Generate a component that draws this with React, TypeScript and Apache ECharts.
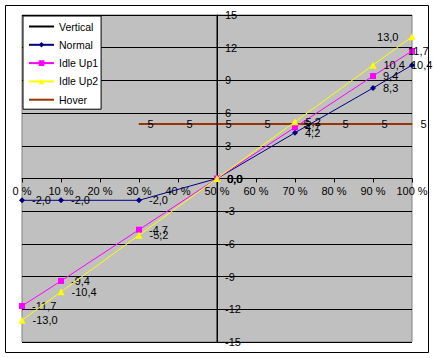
import React, { useEffect, useRef } from "react";
import * as echarts from "echarts";

const xPoints = [0, 10, 30, 50, 70, 90, 100];
const normalValues = [-2.0, -2.0, -2.0, 0.0, 4.2, 8.3, 10.4];
const idleUp1Values = [-11.7, -9.4, -4.7, 0.0, 4.7, 9.4, 11.7];
const idleUp2Values = [-13.0, -10.4, -5.2, 0.0, 5.2, 10.4, 13.0];
const hoverX = [30, 40, 50, 60, 70, 80, 90, 100];
const hoverValues = [5, 5, 5, 5, 5, 5, 5, 5];
const verticalX = [50, 50];
const verticalValues = [-15, 15];

const FONT = "'Liberation Sans', Arial, sans-serif";
const fmt = (v: number) => v.toFixed(1).replace(".", ",");

export default function App() {
  const ref = useRef<HTMLDivElement>(null);
  useEffect(() => {
    document.body.style.margin = "0";
    const chart = echarts.init(ref.current!, null, { renderer: "svg" });

    const baseLabel = {
      show: true,
      position: "right" as const,
      distance: 7,
      color: "#000",
      fontSize: 11,
      fontFamily: FONT,
    };

    const mk = (ys: number[], lastLabel: any) =>
      xPoints.map((x, i) => {
        const item: any = { value: [x, ys[i]] };
        if (x === 100 && lastLabel) item.label = lastLabel;
        return item;
      });

    chart.setOption({
      animation: false,
      textStyle: { fontFamily: FONT },
      graphic: [
        {
          type: "rect",
          shape: { x: 5.5, y: 5.5, width: 423, height: 347 },
          style: { fill: "none", stroke: "#000", lineWidth: 1 },
          z: -1,
        },
      ],
      grid: {
        left: 22,
        top: 15,
        width: 390,
        height: 327,
        show: true,
        backgroundColor: "#C0C0C0",
        borderColor: "#808080",
        borderWidth: 1,
      },
      legend: {
        left: 23,
        top: 16,
        orient: "vertical",
        backgroundColor: "#fff",
        borderColor: "#000",
        borderWidth: 1,
        padding: [5, 3, 4, 5],
        itemWidth: 25,
        itemHeight: 7,
        itemGap: 7.3,
        textStyle: { color: "#000", fontSize: 10.5, fontFamily: FONT },
        data: [
          { name: "Vertical", itemStyle: { opacity: 0 } },
          "Normal",
          "Idle Up1",
          "Idle Up2",
          { name: "Hover", itemStyle: { opacity: 0 } },
        ],
      },
      xAxis: {
        type: "value",
        min: 0,
        max: 100,
        interval: 10,
        position: "bottom",
        offset: -163.5,
        axisLine: { onZero: false, lineStyle: { color: "#000", width: 1 } },
        axisTick: { show: true, length: 4, lineStyle: { color: "#000" } },
        axisLabel: {
          color: "#000",
          fontSize: 11,
          fontFamily: FONT,
          margin: 7,
          formatter: (v: number) => `${v} %`,
        },
        splitLine: { show: false },
      },
      yAxis: {
        type: "value",
        min: -15,
        max: 15,
        interval: 3,
        position: "left",
        offset: -195,
        axisLine: { show: true, onZero: false, lineStyle: { color: "#000", width: 1 } },
        axisTick: { show: false },
        axisLabel: {
          inside: true,
          color: "#000",
          fontSize: 11,
          fontFamily: FONT,
          margin: 8,
          showMinLabel: true,
          showMaxLabel: true,
          formatter: (v: number) => (v === 0 ? "" : String(v)),
        },
        splitLine: { show: true, lineStyle: { color: "#000", width: 1 } },
      },
      series: [
        {
          name: "Vertical",
          type: "line",
          data: verticalX.map((x, i) => [x, verticalValues[i]]),
          symbol: "none",
          lineStyle: { color: "#000", width: 1 },
          itemStyle: { color: "#000" },
          z: 3,
        },
        {
          name: "Normal",
          type: "line",
          data: mk(normalValues, { position: "right", offset: [-11, 0] }),
          symbol: "diamond",
          symbolSize: 6,
          lineStyle: { color: "#000080", width: 1 },
          itemStyle: { color: "#000080" },
          label: { ...baseLabel, formatter: (p: any) => fmt(p.value[1]) },
          z: 4,
        },
        {
          name: "Idle Up1",
          type: "line",
          data: mk(idleUp1Values, { position: "right", offset: [-14, 0] }),
          symbol: "rect",
          symbolSize: 6,
          lineStyle: { color: "#FF00FF", width: 1 },
          itemStyle: { color: "#FF00FF" },
          label: { ...baseLabel, formatter: (p: any) => fmt(p.value[1]) },
          z: 5,
        },
        {
          name: "Idle Up2",
          type: "line",
          data: mk(idleUp2Values, { position: "left", distance: 10 }),
          symbol: "triangle",
          symbolSize: 7,
          lineStyle: { color: "#FFFF00", width: 1 },
          itemStyle: { color: "#FFFF00" },
          label: { ...baseLabel, formatter: (p: any) => fmt(p.value[1]) },
          z: 6,
        },
        {
          name: "Hover",
          type: "line",
          data: hoverX.map((x, i) => [x, hoverValues[i]]),
          symbol: "circle",
          symbolSize: 1,
          showSymbol: true,
          lineStyle: { color: "#993300", width: 2 },
          itemStyle: { color: "#993300" },
          label: {
            ...baseLabel,
            distance: 8,
            formatter: (p: any) => String(p.value[1]),
          },
          z: 2,
        },
      ],
    });
    return () => chart.dispose();
  }, []);
  return <div ref={ref} style={{ width: 433, height: 358 }} />;
}
